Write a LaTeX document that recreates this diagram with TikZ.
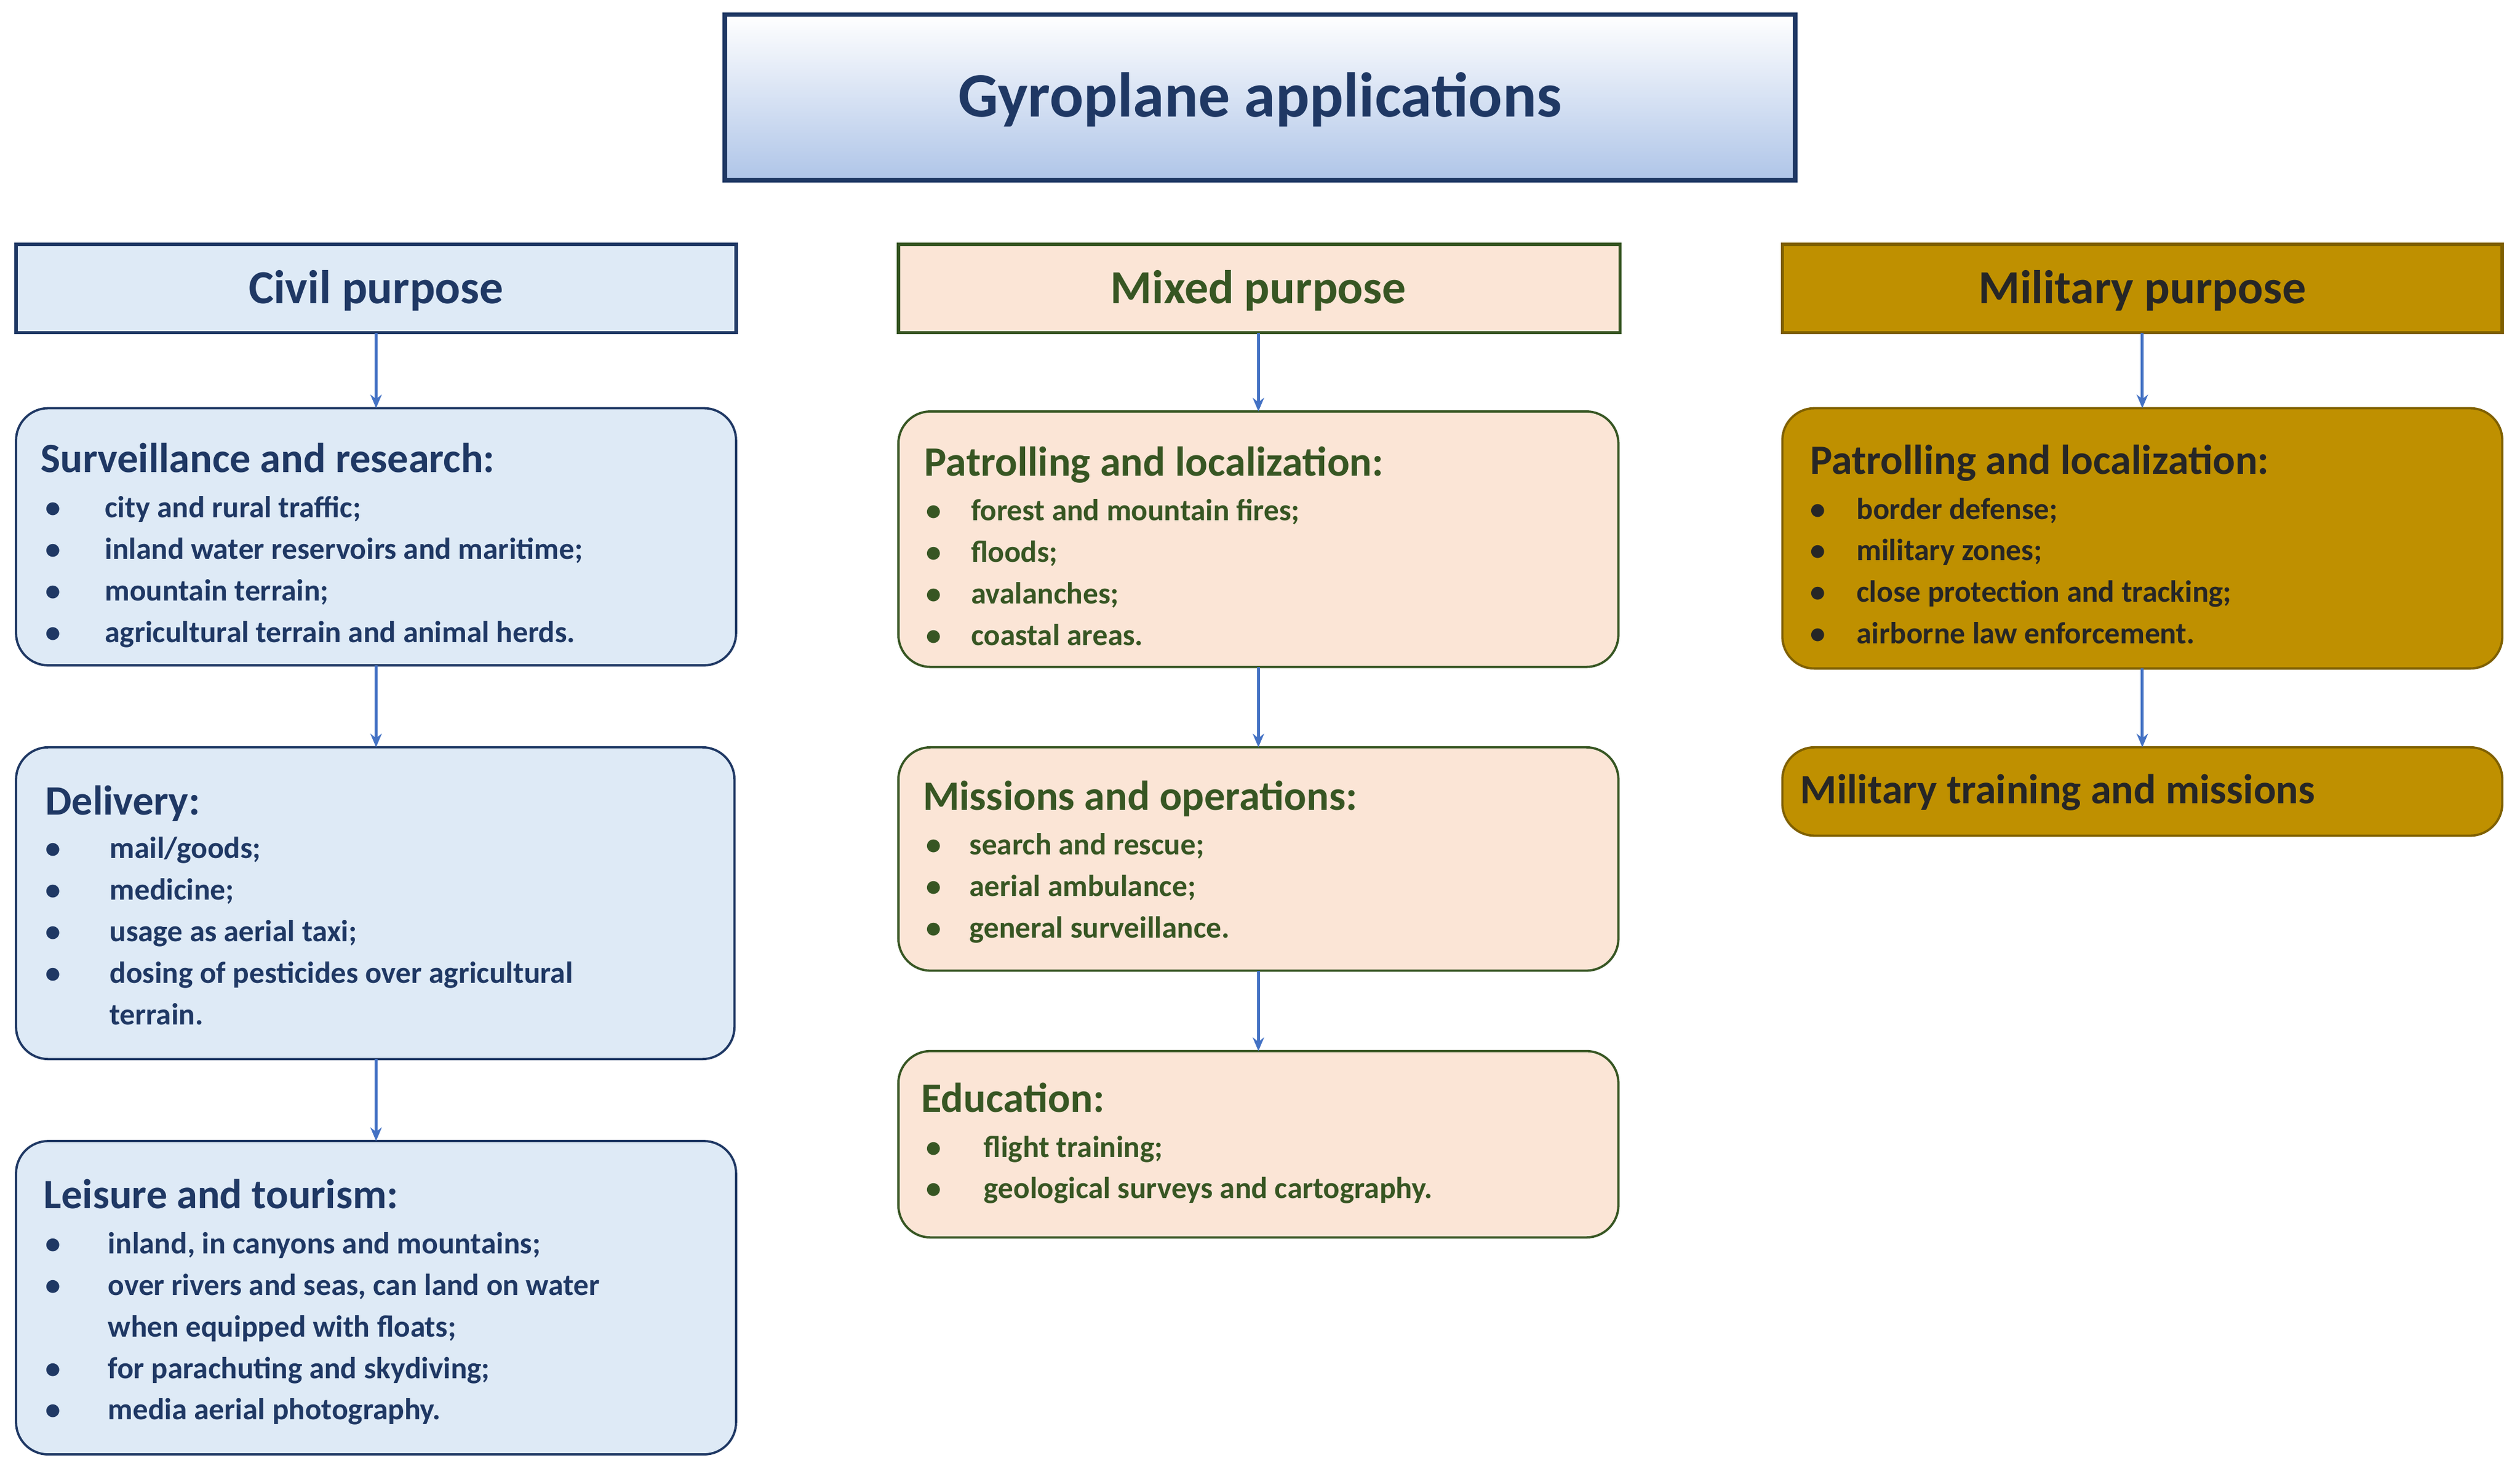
\documentclass[tikz,border=0pt]{standalone}
\usepackage{fontspec}
\setmainfont{Carlito}
\usetikzlibrary{arrows.meta}
\definecolor{navy}{HTML}{1F3864}
\definecolor{civfill}{HTML}{DEEAF6}
\definecolor{mixfill}{HTML}{FBE5D6}
\definecolor{dgreen}{HTML}{375623}
\definecolor{milfill}{HTML}{BF9000}
\definecolor{milline}{HTML}{7F6000}
\definecolor{arr}{HTML}{4472C4}
\definecolor{tblue}{HTML}{AFC5E8}
\newcommand{\itemlist}[2]{\fontsize{13.5}{18.4}\selectfont\begin{tabular}[t]{@{}p{#1}@{}l@{}}#2\end{tabular}}
\newcommand{\bul}{\textbullet}
\begin{document}
\begin{tikzpicture}[x=0.025cm,y=-0.025cm,
  civ/.style={draw=navy,fill=civfill,text=navy},
  mix/.style={draw=dgreen,fill=mixfill,text=dgreen},
  mil/.style={draw=milline,fill=milfill,text=black!85},
  hdr/.style={line width=1.5pt},
  htxt/.style={font=\bfseries\fontsize{21}{25}\selectfont},
  box/.style={rounded corners=0.5cm,line width=1pt},
  head/.style={anchor=base west,inner sep=0pt,font=\bfseries\fontsize{18.5}{22}\selectfont},
  lst/.style={anchor=base west,inner sep=0pt,font=\bfseries},
  ar/.style={arr,line width=1.3pt,-{Stealth[length=6pt,width=5pt]}}]
\useasboundingbox (0,0) rectangle (1568,917);
% title
\shade[top color=white,bottom color=tblue] (451,9) rectangle (1117,112);
\draw[navy,line width=2pt] (451,9) rectangle (1117,112);
\node[text=navy,font=\bfseries\fontsize{28}{32}\selectfont] (title) at (784,62) {Gyroplane applications};
% headers
\path[hdr,civ] (10,152) rectangle (458,207); \node[htxt,text=navy] (civil) at (234,181) {Civil purpose};
\path[hdr,mix] (559,152) rectangle (1008,207); \node[htxt,text=dgreen] (mixed) at (783,181) {Mixed purpose};
\path[hdr,mil] (1109,152) rectangle (1557,207); \node[htxt,text=black!85] (milit) at (1333,181) {Military purpose};
\coordinate (c0) at (234,207); \coordinate (m0) at (783,207); \coordinate (k0) at (1333,207);
% boxes
\path[box,civ] (10,254) rectangle (458,414);
\path[box,civ] (10,465) rectangle (457,659);
\path[box,civ] (10,710) rectangle (458,905);
\path[box,mix] (559,256) rectangle (1007,415);
\path[box,mix] (559,465) rectangle (1007,604);
\path[box,mix] (559,654) rectangle (1007,770);
\path[box,mil] (1109,254) rectangle (1557,416);
\path[box,mil] (1109,465) rectangle (1557,520);
% connector points
\coordinate (c1t) at (234,254); \coordinate (c1b) at (234,414);
\coordinate (c2t) at (234,465); \coordinate (c2b) at (234,659);
\coordinate (c3t) at (234,710);
\coordinate (m1t) at (783,256); \coordinate (m1b) at (783,415);
\coordinate (m2t) at (783,465); \coordinate (m2b) at (783,604);
\coordinate (m3t) at (783,654);
\coordinate (k1t) at (1333,254); \coordinate (k1b) at (1333,416);
\coordinate (k2t) at (1333,465);
\draw[ar] (c0) -- (c1t); \draw[ar] (c1b) -- (c2t); \draw[ar] (c2b) -- (c3t);
\draw[ar] (m0) -- (m1t); \draw[ar] (m1b) -- (m2t); \draw[ar] (m2b) -- (m3t);
\draw[ar] (k0) -- (k1t); \draw[ar] (k1b) -- (k2t);
% civil texts
\node[head,text=navy] (c1h) at (25,294) {Surveillance and research:};
\node[lst,text=navy] (c1l) at (28,322) {\itemlist{0.925cm}{\bul&city and rural traffic;\\\bul&inland water reservoirs and maritime;\\\bul&mountain terrain;\\\bul&agricultural terrain and animal herds.}};
\node[head,text=navy] (c2h) at (28,507) {Delivery:};
\node[lst,text=navy] (c2l) at (28,534) {\itemlist{1.0cm}{\bul&mail/goods;\\\bul&medicine;\\\bul&usage as aerial taxi;\\\bul&dosing of pesticides over agricultural\\&terrain.}};
\node[head,text=navy] (c3h) at (27,752) {Leisure and tourism:};
\node[lst,text=navy] (c3l) at (28,780) {\itemlist{0.975cm}{\bul&inland, in canyons and mountains;\\\bul&over rivers and seas, can land on water\\&when equipped with floats;\\\bul&for parachuting and skydiving;\\\bul&media aerial photography.}};
% mixed texts
\node[head,text=dgreen] (m1h) at (575,296) {Patrolling and localization:};
\node[lst,text=dgreen] (m1l) at (576,324) {\itemlist{0.7cm}{\bul&forest and mountain fires;\\\bul&floods;\\\bul&avalanches;\\\bul&coastal areas.}};
\node[head,text=dgreen] (m2h) at (574,504) {Missions and operations:};
\node[lst,text=dgreen] (m2l) at (576,532) {\itemlist{0.675cm}{\bul&search and rescue;\\\bul&aerial ambulance;\\\bul&general surveillance.}};
\node[head,text=dgreen] (m3h) at (573,692) {Education:};
\node[lst,text=dgreen] (m3l) at (576,720) {\itemlist{0.9cm}{\bul&flight training;\\\bul&geological surveys and cartography.}};
% military texts
\node[head,text=black!85] (k1h) at (1126,295) {Patrolling and localization:};
\node[lst,text=black!85] (k1l) at (1126,323) {\itemlist{0.725cm}{\bul&border defense;\\\bul&military zones;\\\bul&close protection and tracking;\\\bul&airborne law enforcement.}};
\node[head,text=black!85] (k2h) at (1120,500) {Military training and missions};
\end{tikzpicture}
\end{document}
